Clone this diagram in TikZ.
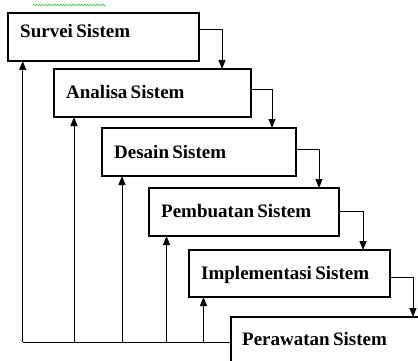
\documentclass[tikz,border=0pt]{standalone}
\usepackage{fontspec}
\setmainfont[WordSpace=0.7]{Liberation Serif}
\usetikzlibrary{arrows.meta,decorations.pathmorphing}
\begin{document}
\begin{tikzpicture}[x=1pt,y=1pt,
  box/.style={draw, line width=1.1pt, inner sep=0pt, outer sep=0pt, anchor=north west},
  lbl/.style={anchor=base west, inner sep=0pt, font=\fontsize{19}{22}\selectfont\bfseries},
  arr/.style={line width=1pt, -{Triangle[length=9pt,width=7pt]}},
  ln/.style={line width=1pt}]
\useasboundingbox (0,0) rectangle (418,-361);
\clip (0,0) rectangle (418,-361);
% spell-check squiggle
\draw[green!65!black!70, line width=0.6pt, decorate, decoration={zigzag, amplitude=0.9pt, segment length=3pt}] (33,-5) -- (106,-5);
% boxes
\node[box, minimum width=191pt, minimum height=48pt] (b1) at (8,-13) {};
\node[box, minimum width=197pt, minimum height=48pt] (b2) at (54,-69) {};
\node[box, minimum width=194pt, minimum height=48pt] (b3) at (102,-128) {};
\node[box, minimum width=190pt, minimum height=48pt] (b4) at (149,-188) {};
\node[box, minimum width=201pt, minimum height=47pt] (b5) at (189,-250) {};
\node[box, minimum width=200pt, minimum height=60pt] (b6) at (231,-317) {};
% labels
\node[lbl] (t1) at (20,-38) {Survei Sistem};
\node[lbl] (t2) at (66,-99) {Analisa Sistem};
\node[lbl] (t3) at (114,-158) {Desain Sistem};
\node[lbl] (t4) at (161,-217) {Pembuatan Sistem};
\node[lbl] (t5) at (201,-279) {Implementasi Sistem};
\node[lbl] (t6) at (242,-345) {Perawatan Sistem};
% forward arrows
\draw[arr] ([yshift=-17pt]b1.north east) -| ([xshift=168pt]b2.north west);
\draw[arr] ([yshift=-21pt]b2.north east) -| ([xshift=170pt]b3.north west);
\draw[arr] ([yshift=-21pt]b3.north east) -| ([xshift=170pt]b4.north west);
\draw[arr] ([yshift=-23pt]b4.north east) -| ([xshift=174pt]b5.north west);
\draw[arr] ([yshift=-27pt]b5.north east) -| ([xshift=182pt]b6.north west);
% feedback
\coordinate (f1) at (22.7,-342);
\coordinate (f2) at (74,-342);
\coordinate (f3) at (122,-342);
\coordinate (f4) at (166.5,-342);
\coordinate (f5) at (203.5,-342);
\draw[ln] ([yshift=-25pt]b6.north west) -- (f1);
\draw[arr] (f1) -- (f1 |- b1.south);
\draw[arr] (f2) -- (f2 |- b2.south);
\draw[arr] (f3) -- (f3 |- b3.south);
\draw[arr] (f4) -- (f4 |- b4.south);
\draw[arr] (f5) -- (f5 |- b5.south);
\end{tikzpicture}
\end{document}
